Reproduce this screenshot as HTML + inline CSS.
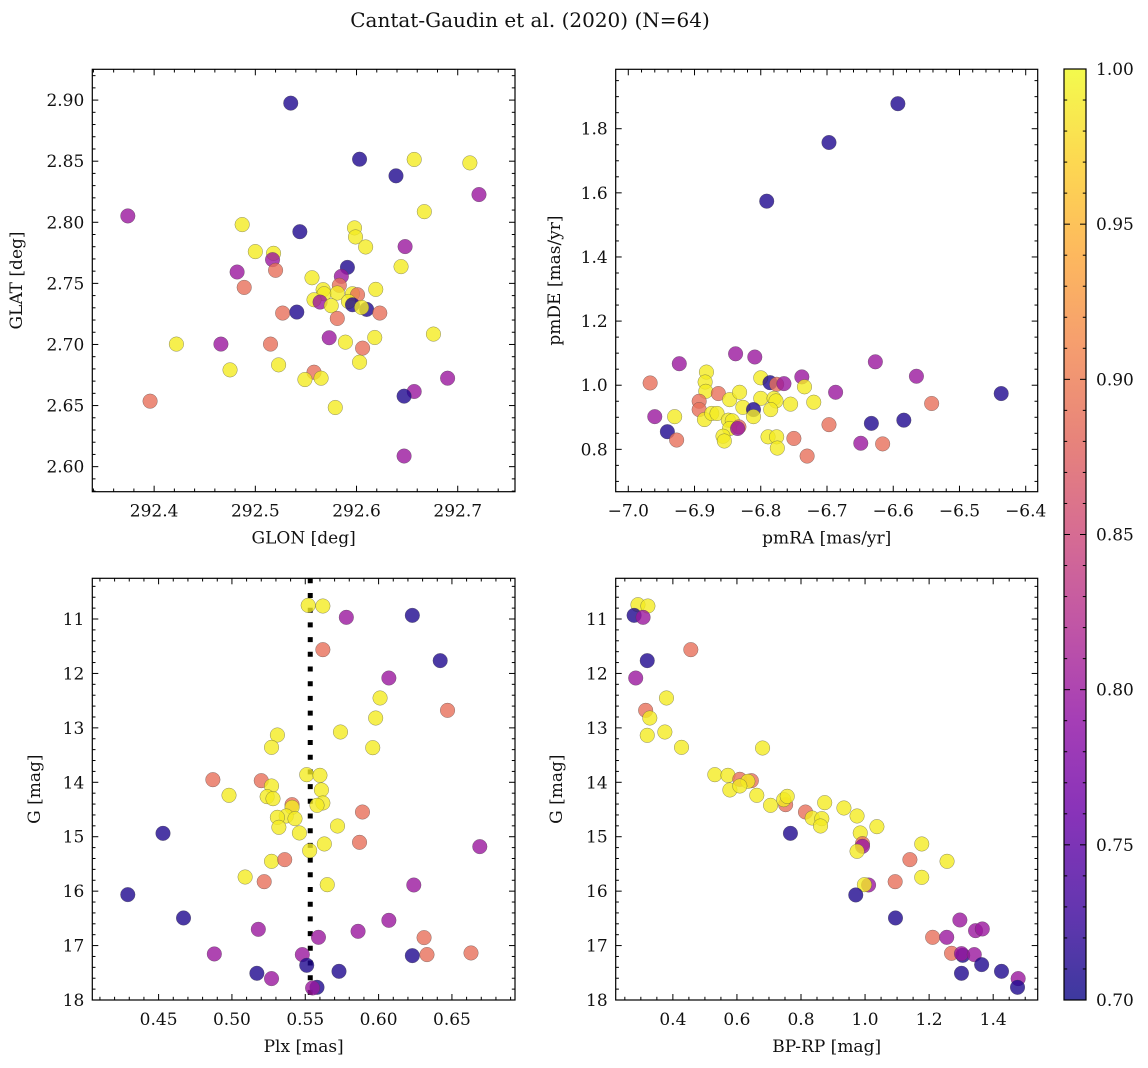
<!DOCTYPE html>
<html><head><meta charset="utf-8"><title>Cantat-Gaudin et al. (2020)</title>
<style>
html,body{margin:0;padding:0;background:#fff;}
svg{display:block;font-family:"DejaVu Serif","Liberation Serif",serif;}
</style></head>
<body>
<svg id="fig" width="1148" height="1068" viewBox="0 0 1148 1068" xmlns="http://www.w3.org/2000/svg">
<defs>
<linearGradient id="cbgrad" x1="0" y1="1" x2="0" y2="0">
<stop offset="0" stop-color="#3d399f"/><stop offset="0.1" stop-color="#6536b0"/>
<stop offset="0.2" stop-color="#8833b9"/>
<stop offset="0.3" stop-color="#a53eb6"/><stop offset="0.4" stop-color="#c055a6"/>
<stop offset="0.5" stop-color="#d66c93"/><stop offset="0.6" stop-color="#e7837b"/>
<stop offset="0.7" stop-color="#f59d6f"/><stop offset="0.8" stop-color="#fdb85e"/>
<stop offset="0.9" stop-color="#fdd851"/><stop offset="1" stop-color="#f3fa4d"/>
</linearGradient>
</defs>
<text x="530" y="27" text-anchor="middle" font-size="20" fill="#111">Cantat-Gaudin et al. (2020) (N=64)</text>
</svg>
<script>
// ---------- data ----------
const glon = [292.535,292.603,292.639,292.657,292.712,292.721,292.374,292.667,292.487,292.544,292.598,292.599,292.609,292.648,292.500,292.518,292.517,292.520,292.482,292.644,292.591,292.585,292.556,292.489,292.583,292.619,292.567,292.568,292.581,292.596,292.601,292.558,292.564,292.592,292.575,292.596,292.610,292.605,292.623,292.527,292.541,292.581,292.422,292.466,292.515,292.573,292.589,292.618,292.676,292.606,292.475,292.523,292.603,292.558,292.549,292.565,292.690,292.657,292.647,292.396,292.579,292.647];
const glat = [2.8975,2.8516,2.8380,2.8514,2.8486,2.8227,2.8052,2.8087,2.7981,2.7923,2.7954,2.7880,2.7798,2.7801,2.7760,2.7746,2.7694,2.7607,2.7593,2.7637,2.7631,2.7557,2.7546,2.7467,2.7484,2.7451,2.7448,2.7415,2.7421,2.7415,2.7407,2.7366,2.7347,2.7352,2.7317,2.7325,2.7287,2.7303,2.7257,2.7257,2.7265,2.7213,2.7003,2.7003,2.7003,2.7055,2.7019,2.7057,2.7085,2.6970,2.6792,2.6833,2.6855,2.6773,2.6713,2.6724,2.6724,2.6615,2.6577,2.6536,2.6484,2.6087];
const probSky = [0.71,0.71,0.71,0.99,0.99,0.80,0.80,0.99,0.99,0.71,0.99,0.99,0.99,0.80,0.99,0.99,0.80,0.89,0.80,0.99,0.71,0.80,0.99,0.89,0.89,0.99,0.99,0.99,0.99,0.99,0.89,0.99,0.80,0.99,0.99,0.71,0.71,0.99,0.89,0.89,0.71,0.89,0.99,0.80,0.89,0.80,0.99,0.99,0.99,0.89,0.99,0.99,0.99,0.89,0.99,0.99,0.80,0.80,0.71,0.89,0.99,0.80];

const pmra = [-6.967,-6.923,-6.960,-6.930,-6.941,-6.927,-6.882,-6.884,-6.883,-6.864,-6.893,-6.893,-6.885,-6.874,-6.866,-6.847,-6.832,-6.827,-6.849,-6.843,-6.847,-6.833,-6.835,-6.857,-6.855,-6.838,-6.809,-6.800,-6.786,-6.776,-6.765,-6.738,-6.734,-6.800,-6.780,-6.777,-6.785,-6.811,-6.811,-6.755,-6.720,-6.789,-6.776,-6.775,-6.750,-6.730,-6.687,-6.697,-6.633,-6.649,-6.616,-6.627,-6.584,-6.565,-6.542,-6.437,-6.697,-6.593,-6.791];
const pmde = [1.007,1.067,0.902,0.902,0.855,0.829,1.041,1.010,0.981,0.974,0.950,0.924,0.893,0.912,0.912,0.955,0.978,0.931,0.891,0.889,0.865,0.870,0.865,0.841,0.826,1.098,1.088,1.023,1.008,1.003,1.005,1.026,0.995,0.959,0.959,0.951,0.924,0.924,0.902,0.941,0.947,0.839,0.839,0.804,0.834,0.779,0.978,0.877,0.881,0.819,0.817,1.073,0.891,1.028,0.943,0.974,1.757,1.878,1.574];
const probPm = [0.89,0.80,0.80,0.99,0.71,0.89,0.99,0.99,0.99,0.89,0.89,0.89,0.99,0.99,0.99,0.99,0.99,0.99,0.99,0.99,0.99,0.89,0.80,0.99,0.99,0.80,0.80,0.99,0.71,0.89,0.80,0.80,0.99,0.99,0.99,0.99,0.99,0.71,0.99,0.99,0.99,0.99,0.99,0.99,0.89,0.89,0.80,0.89,0.71,0.80,0.89,0.80,0.71,0.80,0.89,0.71,0.71,0.71,0.71];

const plx = [0.552,0.562,0.578,0.623,0.562,0.642,0.607,0.601,0.647,0.598,0.574,0.531,0.527,0.596,0.551,0.560,0.487,0.520,0.527,0.561,0.498,0.524,0.528,0.541,0.562,0.558,0.541,0.589,0.537,0.531,0.543,0.572,0.532,0.453,0.546,0.587,0.563,0.669,0.553,0.527,0.536,0.509,0.522,0.565,0.624,0.429,0.467,0.607,0.518,0.586,0.559,0.631,0.488,0.548,0.623,0.633,0.663,0.551,0.517,0.573,0.527,0.558,0.555];
const gmagA = [10.749,10.761,10.969,10.933,11.563,11.765,12.084,12.451,12.678,12.819,13.076,13.131,13.358,13.364,13.860,13.872,13.952,13.970,14.068,14.141,14.239,14.264,14.301,14.411,14.380,14.423,14.460,14.546,14.619,14.644,14.668,14.803,14.827,14.938,14.931,15.103,15.133,15.182,15.256,15.452,15.421,15.740,15.826,15.881,15.887,16.064,16.493,16.536,16.701,16.738,16.848,16.854,17.154,17.166,17.185,17.166,17.136,17.362,17.509,17.473,17.607,17.767,17.779];
const probPlx = [0.99,0.99,0.80,0.71,0.89,0.71,0.80,0.99,0.89,0.99,0.99,0.99,0.99,0.99,0.99,0.99,0.89,0.89,0.99,0.99,0.99,0.99,0.99,0.89,0.99,0.99,0.99,0.89,0.99,0.99,0.99,0.99,0.99,0.71,0.99,0.89,0.99,0.80,0.99,0.99,0.89,0.99,0.89,0.99,0.80,0.71,0.71,0.80,0.80,0.80,0.80,0.89,0.80,0.80,0.71,0.89,0.89,0.71,0.71,0.71,0.80,0.71,0.80];
const plxCut = 0.5534;

const bprp = [0.291,0.322,0.279,0.307,0.456,0.320,0.284,0.380,0.315,0.328,0.320,0.375,0.427,0.680,0.531,0.572,0.609,0.645,0.634,0.578,0.609,0.662,0.705,0.752,0.746,0.757,0.874,0.814,0.835,0.865,0.861,0.934,0.975,1.037,0.767,0.985,0.992,0.992,0.975,1.177,1.140,1.256,1.094,1.177,1.011,0.998,0.971,1.095,1.296,1.345,1.366,1.211,1.255,1.270,1.305,1.301,1.341,1.364,1.301,1.426,1.478,1.476];
const gmagB = [10.737,10.761,10.933,10.969,11.563,11.765,12.084,12.451,12.678,12.819,13.137,13.076,13.358,13.370,13.860,13.872,13.945,13.970,13.982,14.141,14.068,14.239,14.423,14.411,14.319,14.258,14.374,14.546,14.656,14.668,14.803,14.472,14.619,14.815,14.938,14.931,15.127,15.176,15.268,15.133,15.421,15.452,15.826,15.746,15.887,15.881,16.070,16.493,16.530,16.726,16.695,16.848,16.848,17.142,17.179,17.148,17.166,17.350,17.509,17.473,17.607,17.767];
const probCmd = [0.99,0.99,0.71,0.80,0.89,0.71,0.80,0.99,0.89,0.99,0.99,0.99,0.99,0.99,0.99,0.99,0.89,0.89,0.99,0.99,0.99,0.99,0.99,0.89,0.99,0.99,0.99,0.89,0.99,0.99,0.99,0.99,0.99,0.99,0.71,0.99,0.89,0.80,0.99,0.99,0.89,0.99,0.89,0.99,0.80,0.99,0.71,0.71,0.80,0.80,0.80,0.89,0.80,0.89,0.71,0.80,0.80,0.71,0.71,0.71,0.80,0.71];

const cbTicks = [0.70,0.75,0.80,0.85,0.90,0.95,1.00];

// ---------- helpers ----------
const NS = "http://www.w3.org/2000/svg";
const svg = document.getElementById('fig');
function el(tag, attrs, parent){
  const e = document.createElementNS(NS, tag);
  for (const k in attrs) e.setAttribute(k, attrs[k]);
  (parent || svg).appendChild(e);
  return e;
}
const plasmaStops = [[13,8,135],[65,4,157],[106,0,168],[143,13,164],[177,42,144],[204,71,120],[225,100,98],[242,132,75],[252,166,54],[252,206,37],[240,249,33]];
function plasma(c){
  let t = (c-0.7)/0.3; t = Math.max(0, Math.min(1, t));
  const p = t*10, i = Math.min(9, Math.floor(p)), f = p-i;
  const a = plasmaStops[i], b = plasmaStops[i+1];
  return 'rgb(' + [0,1,2].map(k => Math.round(a[k]+(b[k]-a[k])*f)).join(',') + ')';
}
function fmt(v, d){ return v.toFixed(d).replace('-', '\u2212'); }

function panel(cfg){
  const g = el('g', {});
  
  
  const {L,R,T,B} = cfg;
  const sx = v => L + (v-cfg.x0)/(cfg.x1-cfg.x0)*(R-L);
  const sy = cfg.invertY ? (v => T + (v-cfg.y0)/(cfg.y1-cfg.y0)*(B-T)) : (v => B - (v-cfg.y0)/(cfg.y1-cfg.y0)*(B-T));
  const clipId = cfg.name + '-clip';
  const cp = el('clipPath', {id: clipId}, g);
  el('rect', {x:L, y:T, width:R-L, height:B-T}, cp);
  const pts = el('g', {'clip-path':'url(#'+clipId+')'}, g);
  
  
  if (cfg.vline !== undefined){
    const ln = el('line', {x1:sx(cfg.vline), x2:sx(cfg.vline), y1:T, y2:B, stroke:'#000', 'stroke-width':5, 'stroke-dasharray':'5 9.7'}, pts);
    
    
  }
  for (let i=0;i<cfg.xs.length;i++){
    const c = el('circle', {cx:sx(cfg.xs[i]), cy:sy(cfg.ys[i]), r:7.3, fill:plasma(cfg.cs[i]), 'fill-opacity':0.8, stroke:'#444', 'stroke-opacity':0.6, 'stroke-width':0.5}, pts);
    
    
  }
  const tk = el('g', {stroke:'#000', 'stroke-width':1}, g);
  
  
  const eps = 1e-9;
  for (let v = Math.ceil(cfg.x0/cfg.xmin-eps)*cfg.xmin; v <= cfg.x1+eps; v += cfg.xmin){
    const isMaj = Math.abs(v/cfg.xmaj - Math.round(v/cfg.xmaj)) < 1e-6;
    const len = isMaj ? 6 : 3.2, x = sx(v);
    el('line', {x1:x, x2:x, y1:B, y2:B-len}, tk);
    el('line', {x1:x, x2:x, y1:T, y2:T+len}, tk);
  }
  for (let v = Math.ceil(Math.min(cfg.y0,cfg.y1)/cfg.ymin-eps)*cfg.ymin; v <= Math.max(cfg.y0,cfg.y1)+eps; v += cfg.ymin){
    const isMaj = Math.abs(v/cfg.ymaj - Math.round(v/cfg.ymaj)) < 1e-6;
    const len = isMaj ? 6 : 3.2, y = sy(v);
    el('line', {x1:L, x2:L+len, y1:y, y2:y}, tk);
    el('line', {x1:R, x2:R-len, y1:y, y2:y}, tk);
  }
  for (const v of cfg.xlabels){
    const t = el('text', {x:sx(v), y:B+25, 'text-anchor':'middle', 'font-size':17, fill:'#111'}, g);
    t.textContent = fmt(v, cfg.xdec);
    
    
  }
  for (const v of cfg.ylabels){
    const t = el('text', {x:L-8, y:sy(v)+6, 'text-anchor':'end', 'font-size':17, fill:'#111'}, g);
    t.textContent = fmt(v, cfg.ydec);
    
    
  }
  const fr = el('rect', {x:L, y:T, width:R-L, height:B-T, fill:'none', stroke:'#000', 'stroke-width':1.2}, g);
  
  
  const xl = el('text', {x:(L+R)/2, y:B+52, 'text-anchor':'middle', 'font-size':17, fill:'#111'}, g);
  xl.textContent = cfg.xtitle;
  
  
  const cy = (T+B)/2;
  const yl = el('text', {x:cfg.ytx, y:cy, 'text-anchor':'middle', 'font-size':17, fill:'#111', transform:'rotate(-90 '+cfg.ytx+' '+cy+')'}, g);
  yl.textContent = cfg.ytitle;
  
  
}

panel({name:'sky-panel', L:92.3, R:515, T:69.3, B:491.7, x0:292.3389, x1:292.7566, y0:2.5795, y1:2.9252,
  xs:glon, ys:glat, cs:probSky, xmaj:0.1, xmin:0.02, ymaj:0.05, ymin:0.01,
  xlabels:[292.4,292.5,292.6,292.7], xdec:1, ylabels:[2.60,2.65,2.70,2.75,2.80,2.85,2.90], ydec:2,
  xtitle:'GLON [deg]', ytitle:'GLAT [deg]', ytx:22});
panel({name:'pm-panel', L:615.7, R:1037.7, T:69.3, B:491.7, x0:-7.0190, x1:-6.3819, y0:0.6679, y1:1.9853,
  xs:pmra, ys:pmde, cs:probPm, xmaj:0.1, xmin:0.02, ymaj:0.2, ymin:0.05,
  xlabels:[-7.0,-6.9,-6.8,-6.7,-6.6,-6.5,-6.4], xdec:1, ylabels:[0.8,1.0,1.2,1.4,1.6,1.8], ydec:1,
  xtitle:'pmRA [mas/yr]', ytitle:'pmDE [mas/yr]', ytx:560});
panel({name:'plx-panel', L:92.3, R:515, T:578.3, B:1000, x0:0.4048, x1:0.6930, y0:10.252, y1:18.0, invertY:true,
  xs:plx, ys:gmagA, cs:probPlx, vline:plxCut, xmaj:0.05, xmin:0.01, ymaj:1, ymin:0.2,
  xlabels:[0.45,0.50,0.55,0.60,0.65], xdec:2, ylabels:[11,12,13,14,15,16,17,18], ydec:0,
  xtitle:'Plx [mas]', ytitle:'G [mag]', ytx:40});
panel({name:'cmd-panel', L:615.7, R:1037.7, T:578.3, B:1000, x0:0.2215, x1:1.5390, y0:10.252, y1:18.0, invertY:true,
  xs:bprp, ys:gmagB, cs:probCmd, xmaj:0.2, xmin:0.05, ymaj:1, ymin:0.2,
  xlabels:[0.4,0.6,0.8,1.0,1.2,1.4], xdec:1, ylabels:[11,12,13,14,15,16,17,18], ydec:0,
  xtitle:'BP-RP [mag]', ytitle:'G [mag]', ytx:562});

// ---------- colorbar ----------
(function(){
  const L=1064, R=1086, T=69, B=1000;
  const g = el('g', {});
  
  
  el('rect', {x:L, y:T, width:R-L, height:B-T, fill:'url(#cbgrad)', stroke:'#000', 'stroke-width':1.2}, g);
  const sy = v => B - (v-0.70)/0.30*(B-T);
  for (let k=0;k<=30;k++){
    const v = 0.70 + k*0.01, y = sy(v);
    const len = (k%5===0) ? 6 : 3.2;
    el('line', {x1:R, x2:R-len, y1:y, y2:y, stroke:'#000', 'stroke-width':1}, g);
    el('line', {x1:L, x2:L+len, y1:y, y2:y, stroke:'#000', 'stroke-width':1}, g);
  }
  for (const v of cbTicks){
    const t = el('text', {x:R+10, y:sy(v)+6, 'font-size':17, fill:'#111'}, g);
    t.textContent = v.toFixed(2);
    
    
  }
})();
</script>
</body></html>
